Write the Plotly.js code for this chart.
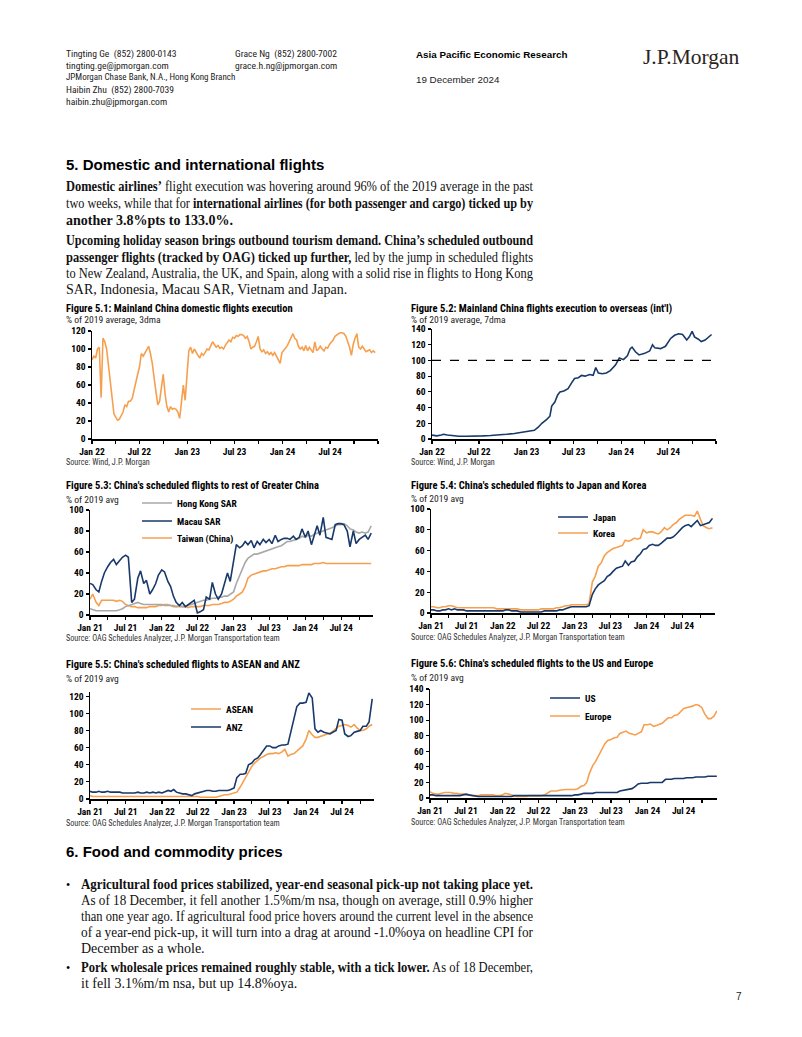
<!DOCTYPE html>
<html><head><meta charset="utf-8">
<script src="https://cdn.plot.ly/plotly-3.0.1.min.js"></script>
<style>
body{margin:0;background:#fff;}
#page{position:relative;width:802px;height:1037px;overflow:hidden;background:#fff;}
#plot{position:absolute;left:0;top:0;z-index:0;}
.t{position:absolute;white-space:nowrap;line-height:14px;transform:translateY(-50%);z-index:2;color:#000;}
.hd{font-family:'Roboto Condensed';font-size:9.6px;color:#222;}
.ct{font-family:'Roboto Condensed';font-weight:bold;font-size:10.5px;}
.cs{font-family:'Roboto Condensed';font-size:9.6px;color:#222;}
.src{font-family:'Roboto Condensed';font-size:8.2px;color:#333;}
.h1{font-family:'Liberation Sans';font-weight:bold;font-size:15px;}
.j{position:absolute;white-space:nowrap;font-family:'Liberation Serif';font-size:14px;line-height:16px;z-index:2;color:#111;}
</style></head>
<body><div id="page">
<div id="plot"></div>

<!-- header -->
<div class="t hd" style="left:66px;top:54px">Tingting Ge&nbsp; (852) 2800-0143</div>
<div class="t hd" style="left:66px;top:66px">tingting.ge@jpmorgan.com</div>
<div class="t hd" style="left:66px;top:77px;font-size:9px">JPMorgan Chase Bank, N.A., Hong Kong Branch</div>
<div class="t hd" style="left:66px;top:90px">Haibin Zhu&nbsp; (852) 2800-7039</div>
<div class="t hd" style="left:66px;top:102px">haibin.zhu@jpmorgan.com</div>
<div class="t hd" style="left:235px;top:54px">Grace Ng&nbsp; (852) 2800-7002</div>
<div class="t hd" style="left:235px;top:66px">grace.h.ng@jpmorgan.com</div>
<div class="t" style="left:416px;top:54px;font:bold 9.8px 'Liberation Sans'">Asia Pacific Economic Research</div>
<div class="t" style="left:416px;top:79px;font:9.8px 'Liberation Sans';color:#222">19 December 2024</div>
<div class="t" style="left:643px;top:57px;font:21.5px 'Liberation Serif';color:#2b2320;line-height:24px">J.P.Morgan</div>

<!-- section 5 -->
<div class="t h1" style="left:66px;top:165px">5. Domestic and international flights</div>
<div class="j" data-w="467" style="left:66px;top:179px"><span><b>Domestic airlines’</b> flight execution was hovering around 96% of the 2019 average in the past</span></div>
<div class="j" data-w="467" style="left:66px;top:196px"><span>two weeks, while that for <b>international airlines (for both passenger and cargo) ticked up by</b></span></div>
<div class="j last" data-w="467" style="left:66px;top:213px"><span><b>another 3.8%pts to 133.0%.</b></span></div>
<div class="j" data-w="467" style="left:66px;top:233px"><span><b>Upcoming holiday season brings outbound tourism demand. China’s scheduled outbound</b></span></div>
<div class="j" data-w="467" style="left:66px;top:250px"><span><b>passenger flights (tracked by OAG) ticked up further,</b> led by the jump in scheduled flights</span></div>
<div class="j" data-w="467" style="left:66px;top:266px"><span>to New Zealand, Australia, the UK, and Spain, along with a solid rise in flights to Hong Kong</span></div>
<div class="j last" data-w="467" style="left:66px;top:282px"><span>SAR, Indonesia, Macau SAR, Vietnam and Japan.</span></div>

<!-- chart texts -->
<div class="t ct" style="left:66px;top:309px">Figure 5.1: Mainland China domestic flights execution</div>
<div class="t cs" style="left:66px;top:320px">% of 2019 average, 3dma</div>
<div class="t src" style="left:66px;top:462px">Source: Wind, J.P. Morgan</div>

<div class="t ct" style="left:411px;top:309px">Figure 5.2: Mainland China flights execution to overseas (int'l)</div>
<div class="t cs" style="left:411px;top:320px">% of 2019 average, 7dma</div>
<div class="t src" style="left:411px;top:462px">Source: Wind, J.P. Morgan</div>

<div class="t ct" style="left:66px;top:486px">Figure 5.3: China's scheduled flights to rest of Greater China</div>
<div class="t cs" style="left:66px;top:500px">% of 2019 avg</div>
<div class="t src" style="left:66px;top:638px">Source: OAG Schedules Analyzer, J.P. Morgan Transportation team</div>

<div class="t ct" style="left:411px;top:486px">Figure 5.4: China's scheduled flights to Japan and Korea</div>
<div class="t cs" style="left:411px;top:499px">% of 2019 avg</div>
<div class="t src" style="left:411px;top:637px">Source: OAG Schedules Analyzer, J.P. Morgan Transportation team</div>

<div class="t ct" style="left:66px;top:665px">Figure 5.5: China's scheduled flights to ASEAN and ANZ</div>
<div class="t cs" style="left:66px;top:679px">% of 2019 avg</div>
<div class="t src" style="left:66px;top:823px">Source: OAG Schedules Analyzer, J.P. Morgan Transportation team</div>

<div class="t ct" style="left:411px;top:664px">Figure 5.6: China's scheduled flights to the US and Europe</div>
<div class="t cs" style="left:411px;top:678px">% of 2019 avg</div>
<div class="t src" style="left:411px;top:822px">Source: OAG Schedules Analyzer, J.P. Morgan Transportation team</div>

<!-- section 6 -->
<div class="t h1" style="left:66px;top:852px">6. Food and commodity prices</div>
<div class="t" style="left:66px;top:885px;font:12px 'Liberation Serif'">•</div>
<div class="j" data-w="452" style="left:81px;top:877px"><span><b>Agricultural food prices stabilized, year-end seasonal pick-up not taking place yet.</b></span></div>
<div class="j" data-w="452" style="left:81px;top:893px"><span>As of 18 December, it fell another 1.5%m/m nsa, though on average, still 0.9% higher</span></div>
<div class="j" data-w="452" style="left:81px;top:909px"><span>than one year ago. If agricultural food price hovers around the current level in the absence</span></div>
<div class="j" data-w="452" style="left:81px;top:925px"><span>of a year-end pick-up, it will turn into a drag at around -1.0%oya on headline CPI for</span></div>
<div class="j last" data-w="452" style="left:81px;top:941px"><span>December as a whole.</span></div>
<div class="t" style="left:66px;top:968px;font:12px 'Liberation Serif'">•</div>
<div class="j" data-w="452" style="left:81px;top:960px"><span><b>Pork wholesale prices remained roughly stable, with a tick lower.</b> As of 18 December,</span></div>
<div class="j last" data-w="452" style="left:81px;top:976px"><span>it fell 3.1%m/m nsa, but up 14.8%oya.</span></div>
<div class="t" style="left:736px;top:996px;font:10px 'Liberation Sans';color:#222">7</div>
</div>

<script>
// ---------------- DATA ----------------
// Fig 5.1: weekly readings from 1 Jan 2022 (domestic flights, % of 2019 avg)
const domStart = "2022-01-01";
const domestic = [
88,92,90,100,102,46,112,108,100,80,
60,40,28,24,21,22,26,30,38,36,
42,42,45,55,62,72,80,95,92,96,
100,103,95,84,68,50,38,42,55,72,
50,36,30,36,33,34,33,30,23,40,
60,43,70,98,102,95,100,96,93,90,
95,93,97,100,99,103,108,105,102,104,
101,102,100,104,107,110,108,113,112,115,
114,116,116,115,112,114,108,100,102,103,
108,114,100,97,99,95,97,94,96,93,
96,92,88,84,96,98,101,104,109,113,
117,112,110,103,100,102,98,104,98,102,
99,96,108,98,100,103,100,98,102,101,
105,107,110,114,116,117,118,118,117,114,
108,102,93,105,112,117,102,100,103,100,
97,98,99,96,98,96];

// Fig 5.2: international flights execution (% of 2019 avg, 7dma)
const intlDates = ["2022-01-01","2022-01-20","2022-02-05","2022-02-15","2022-03-01","2022-03-20","2022-04-15","2022-05-15","2022-06-15","2022-07-15","2022-08-15","2022-09-15","2022-10-15","2022-11-15","2022-12-15","2023-01-10","2023-01-31","2023-02-15","2023-03-01","2023-03-20","2023-04-01","2023-04-08","2023-04-20","2023-05-01","2023-05-10","2023-05-25","2023-06-10","2023-06-25","2023-07-05","2023-07-20","2023-08-01","2023-08-15","2023-09-01","2023-09-15","2023-09-25","2023-10-05","2023-10-20","2023-11-05","2023-11-20","2023-12-10","2023-12-25","2024-01-10","2024-01-25","2024-02-05","2024-02-12","2024-02-25","2024-03-10","2024-04-01","2024-04-20","2024-05-01","2024-05-10","2024-06-01","2024-06-20","2024-07-10","2024-07-25","2024-08-10","2024-08-25","2024-09-10","2024-09-20","2024-10-01","2024-10-10","2024-10-25","2024-11-05","2024-11-20","2024-12-05","2024-12-15"];
const intl = [5,4,5,6,5,4,3.5,3.5,3.5,4,4.5,5,6,7,8.5,10,11,15,20,25,29,42,47,56,60,61,64,72,77,78,81,80,82,81,91,84,83,84,87,94,103,101,106,115,117,111,107,109,112,120,116,115,118,128,132,134,133,126,130,137,130,127,124,126,130,133];

// Figs 5.3-5.6: semi-monthly readings (1st and 15th) from Jan 2021
const hongKong = [6,5,4,4,4,4,4,4,4,4, 5,6,8,9,10,11,12,11,10,10, 10,10,10,10,10,9,9,9,9,8, 9,8,8,9,10,11,12,13,14,14, 15,16,16,17,17,18,18,20,22,30, 38,44,50,54,56,58,58,59,60,61, 62,63,64,65,66,68,70,70,71,72, 73,75,74,76,75,77,78,79,80,81, 82,83,85,86,86,87,85,82,81,79, 78,79,78,79,85];
const macau = [30,29,24,22,32,40,46,50,53,48, 52,55,57,55,12,15,35,42,30,33, 20,24,30,38,43,41,32,27,18,12, 9,12,8,10,12,14,2,3,5,17, 15,31,20,15,20,30,40,32,52,67, 64,66,70,67,71,64,70,67,72,69, 72,68,76,70,72,73,73,72,75,72, 74,82,74,80,67,76,85,76,93,74, 73,72,86,87,87,86,80,65,80,68, 72,74,76,72,78];
const taiwan = [15,20,12,9,14,14,14,14,14,13, 14,13,10,9,8,8,7,7,7,7, 8,8,8,9,9,10,10,9,8,8, 8,8,8,7,8,8,8,8,9,9, 9,10,10,10,11,12,12,13,15,18, 20,22,27,35,38,39,40,41,42,42, 43,44,44,45,46,46,47,47,47,47, 47,48,48,48,48,49,49,49,50,49, 49,49,49,49,49,49,49,49,49,49, 49,49,49,49,49];
const japan = [3,3,2,2,3,3,4,3,4,3, 3,3,2,2,2,2,2,2,2,2, 2,2,2,2,2,3,3,2,2,2, 1,1,1,1,1,1,1,1,2,2, 2,2,2,3,3,4,5,6,6,6, 6,6,6,7,18,23,27,29,31,35, 37,40,43,44,45,50,46,49,50,54, 57,61,62,65,66,65,65,67,70,72, 72,73,76,79,82,84,85,83,86,89, 84,85,86,87,91];
const korea = [6,6,5,5,6,6,7,7,6,5, 5,5,5,5,5,5,5,5,5,5, 5,5,4,4,4,4,4,4,4,4, 3,3,3,3,3,3,3,4,4,4, 4,4,5,5,6,7,7,8,8,8, 8,8,8,9,30,35,45,48,55,58, 60,62,63,64,65,70,69,70,72,71, 72,80,77,78,78,77,76,78,82,80, 82,85,87,90,92,94,94,94,93,98, 90,84,82,81,82];
const asean = [4,3,3,3,3,3,3,3,3,3, 3,3,3,3,3,3,3,3,3,3, 3,3,3,3,3,3,3,3,3,3, 3,3,3,3,3,3,3,2,2,2, 2,2,2,3,4,5,5,6,7,8, 14,20,26,32,38,42,45,48,50,52, 53,53,54,53,55,58,50,52,53,56, 60,62,70,80,75,72,72,73,75,76, 77,79,82,85,86,87,86,84,87,83, 80,80,82,85,87];
const anz = [9,8,8,9,8,8,9,8,8,8, 8,7,7,7,7,7,8,7,7,8, 7,8,7,8,7,8,10,9,11,8, 7,6,6,5,4,6,7,8,9,10, 10,9,9,10,10,10,10,11,13,25, 29,29,30,40,42,46,48,52,58,62, 62,60,60,62,63,63,64,78,95,108, 112,112,113,124,118,82,78,80,78,77, 76,78,80,93,92,76,73,74,78,79, 80,85,85,90,117];
const us = [4,4,3,3,3,3,3,3,3,3, 3,4,5,4,3,3,2,2,2,2, 2,2,2,2,2,2,2,2,3,3, 3,3,3,3,3,3,3,3,3,3, 3,3,3,3,3,3,3,3,4,4, 5,6,6,6,6,7,7,7,7,7, 7,7,7,9,10,10,11,12,15,18, 19,19,19,20,20,20,20,20,24,24, 24,25,25,25,25,26,26,26,27,27, 27,27,28,28,28,28];
const europe = [8,6,5,5,6,7,7,7,6,6, 5,5,4,4,3,3,3,4,4,4, 4,4,3,3,4,6,5,4,3,2, 2,2,2,3,3,3,3,3,4,6, 9,9,9,10,11,11,11,11,11,12, 15,16,20,32,42,47,55,60,70,74, 75,77,78,83,85,86,83,82,81,83, 85,94,94,95,92,93,95,96,100,103, 103,106,107,111,115,116,117,118,120,119, 116,108,102,102,105,112];

// tick labels
const tickVals22 = ["2022-01-01","2022-04-01","2022-07-01","2022-10-01","2023-01-01","2023-04-01","2023-07-01","2023-10-01","2024-01-01","2024-04-01","2024-07-01","2024-10-01","2025-01-01"];
const tickText22 = ["Jan 22","","Jul 22","","Jan 23","","Jul 23","","Jan 24","","Jul 24","",""];
const tickVals21 = ["2021-01-01","2021-04-01","2021-07-01","2021-10-01","2022-01-01","2022-04-01","2022-07-01","2022-10-01","2023-01-01","2023-04-01","2023-07-01","2023-10-01","2024-01-01","2024-04-01","2024-07-01","2024-10-01"];
const tickText21 = ["Jan 21","","Jul 21","","Jan 22","","Jul 22","","Jan 23","","Jul 23","","Jan 24","","Jul 24",""];

// ---------------- DATES ----------------
function weekly(start, n){const out=[];const d0=new Date(start+"T00:00:00Z");for(let i=0;i<n;i++){const d=new Date(d0.getTime()+i*7*864e5);out.push(d.toISOString().slice(0,10));}return out;}
function semiMonthly(n){const out=[];for(let k=0;k<n;k++){const y=2021+Math.floor(k/24);const m=Math.floor((k%24)/2)+1;out.push(y+"-"+String(m).padStart(2,"0")+"-"+(k%2?"15":"01"));}return out;}
const domDates = weekly(domStart, domestic.length);

// ---------------- STYLE ----------------
const ORANGE="#F6A04F", NAVY="#18396A", GREY="#A8A8A8";
const FONT="Roboto Condensed";
const W=802,H=1037;
const xd=(a,b)=>[a/W,b/W];
const yd=(top,bottom)=>[1-bottom/H,1-top/H];
const tickfont={family:FONT,size:9.5,weight:"bold",color:"#000"};
function xax(dom,range,vals,text,anchor){return {domain:xd(...dom),anchor:anchor,type:"date",range:range,tickmode:"array",tickvals:vals,ticktext:text,showline:true,linecolor:"#000",linewidth:1.5,ticks:"outside",ticklen:3,tickwidth:1.2,tickcolor:"#000",showgrid:false,zeroline:false,tickfont:tickfont,fixedrange:true};}
function yax(dom,range,top,anchor){const vals=[];for(let v=0;v<=top;v+=20)vals.push(v);return {domain:yd(...dom),anchor:anchor,range:range,tickmode:"array",tickvals:vals,showline:true,linecolor:"#000",linewidth:1.5,ticks:"outside",ticklen:3,tickwidth:1.2,tickcolor:"#000",showgrid:false,zeroline:false,tickfont:tickfont,fixedrange:true};}
function line(x,y,color,xa,ya,name,leg){return {type:"scatter",mode:"lines",x:x,y:y,xaxis:xa,yaxis:ya,name:name,line:{color:color,width:1.6},showlegend:!!leg,legend:leg||"legend",hoverinfo:"skip"};}
function lg(textX,cy){return {x:(textX-40)/W,y:1-cy/H,xanchor:"left",yanchor:"middle",bgcolor:"rgba(0,0,0,0)",borderwidth:0,font:{family:FONT,size:9.5,weight:"bold",color:"#000"},itemwidth:30};}

const sm95=semiMonthly(95), sm96=semiMonthly(96);
const traces=[
 line(domDates,domestic,ORANGE,"x","y","Domestic"),
 line(intlDates,intl,NAVY,"x2","y2","International"),
 line(sm95,taiwan,ORANGE,"x3","y3","Taiwan (China)","legend3"),
 line(sm95,hongKong,GREY,"x3","y3","Hong Kong SAR","legend"),
 line(sm95,macau,NAVY,"x3","y3","Macau SAR","legend2"),
 line(sm95,korea,ORANGE,"x4","y4","Korea","legend5"),
 line(sm95,japan,NAVY,"x4","y4","Japan","legend4"),
 line(sm95,asean,ORANGE,"x5","y5","ASEAN","legend6"),
 line(sm95,anz,NAVY,"x5","y5","ANZ","legend7"),
 line(sm96,europe,ORANGE,"x6","y6","Europe","legend9"),
 line(sm96,us,NAVY,"x6","y6","US","legend8")
];
const r22=["2022-01-01","2025-01-01"], r21=["2021-01-01","2024-12-10"];
const layout={
 width:W,height:H,margin:{l:0,r:0,t:0,b:0},paper_bgcolor:"rgba(0,0,0,0)",plot_bgcolor:"rgba(0,0,0,0)",
 hovermode:false,showlegend:true,
 xaxis:xax([92,378],r22,tickVals22,tickText22,"y"), yaxis:yax([331,439],[0,120],120,"x"),
 xaxis2:xax([432,716],r22,tickVals22,tickText22,"y2"), yaxis2:yax([329,439],[0,140],140,"x2"),
 xaxis3:xax([90,373],r21,tickVals21,tickText21,"y3"), yaxis3:yax([510,615],[0,100],100,"x3"),
 xaxis4:xax([431,715],["2021-01-01","2024-12-14"],tickVals21,tickText21,"y4"), yaxis4:yax([509,613],[0,100],100,"x4"),
 xaxis5:xax([90,374],r21,tickVals21,tickText21,"y5"), yaxis5:yax([692,799],[0,125],120,"x5"),
 xaxis6:xax([430,717],["2021-01-01","2024-12-16"],tickVals21,tickText21,"y6"), yaxis6:yax([689,798],[0,140],140,"x6"),
 legend:lg(177,503), legend2:lg(177,521), legend3:lg(177,538),
 legend4:lg(593,517), legend5:lg(593,533),
 legend6:lg(226,709), legend7:lg(226,727),
 legend8:lg(585,698), legend9:lg(585,716),
 shapes:[{type:"line",xref:"x2 domain",yref:"y2",x0:0,x1:1,y0:100,y1:100,line:{color:"#000",width:1.3,dash:"dash"}}]
};
Plotly.newPlot("plot",traces,layout,{staticPlot:true,displayModeBar:false});

// ---------------- justify text lines ----------------
function fit(){document.querySelectorAll(".j").forEach(el=>{const Wt=parseFloat(el.dataset.w);const sp=el.firstElementChild;sp.style.wordSpacing="";sp.style.transform="";const w=sp.getBoundingClientRect().width;if(w>Wt){sp.style.display="inline-block";sp.style.transformOrigin="0 0";sp.style.transform="scaleX("+(Wt/w)+")";}else if(!el.classList.contains("last")){const n=(sp.textContent.match(/ /g)||[]).length;if(n)sp.style.wordSpacing=((Wt-w)/n)+"px";}});}
if(document.fonts&&document.fonts.ready){document.fonts.ready.then(fit);}else{fit();}
</script>
</body></html>
